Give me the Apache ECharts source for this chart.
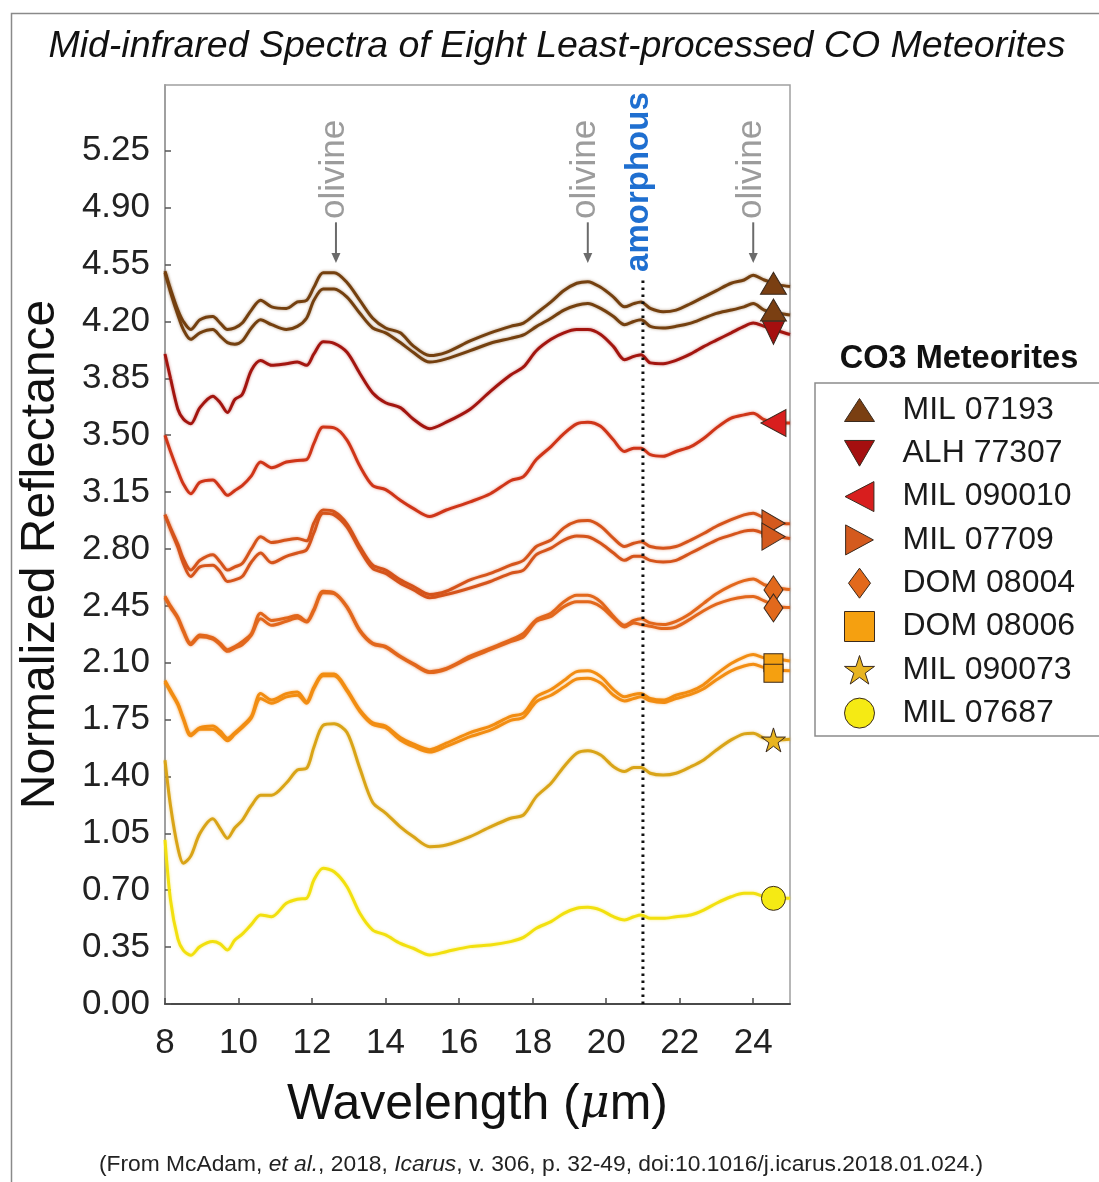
<!DOCTYPE html>
<html><head><meta charset="utf-8">
<script src="https://cdn.jsdelivr.net/npm/echarts@6/dist/echarts.min.js"></script>
<style>html,body{margin:0;padding:0;background:#fff}#c{width:1099px;height:1182px}</style>
</head><body><div id="c"></div>
<script>
// ---------- data ----------
const wavelength = [8.0, 8.15, 8.35, 8.5, 8.7, 8.95, 9.3, 9.5, 9.7, 9.9, 10.1, 10.35, 10.6, 10.9, 11.3, 11.6, 11.85, 12.05, 12.3, 12.6, 12.95, 13.3, 13.65, 14.0, 14.4, 14.75, 15.2, 15.65, 16.3, 16.85, 17.4, 17.75, 18.1, 18.5, 18.85, 19.2, 19.5, 19.85, 20.2, 20.5, 20.75, 20.95, 21.2, 21.55, 21.9, 22.3, 22.65, 23.0, 23.4, 23.75, 24.0, 24.3, 24.7, 25.0];

const mil07193a = [4.51, 4.40, 4.27, 4.20, 4.15, 4.21, 4.23, 4.19, 4.15, 4.16, 4.19, 4.27, 4.33, 4.29, 4.28, 4.32, 4.33, 4.41, 4.50, 4.50, 4.44, 4.33, 4.22, 4.16, 4.13, 4.05, 3.99, 4.01, 4.08, 4.13, 4.17, 4.19, 4.25, 4.32, 4.39, 4.435, 4.445, 4.41, 4.35, 4.29, 4.31, 4.32, 4.28, 4.26, 4.27, 4.31, 4.35, 4.39, 4.435, 4.455, 4.485, 4.455, 4.425, 4.415];
const mil07193b = [4.50, 4.38, 4.24, 4.15, 4.09, 4.13, 4.15, 4.11, 4.07, 4.06, 4.08, 4.16, 4.21, 4.18, 4.15, 4.17, 4.22, 4.33, 4.40, 4.40, 4.35, 4.25, 4.16, 4.13, 4.07, 4.01, 3.95, 3.97, 4.02, 4.066, 4.096, 4.117, 4.168, 4.22, 4.27, 4.30, 4.31, 4.28, 4.23, 4.18, 4.20, 4.21, 4.17, 4.16, 4.17, 4.19, 4.22, 4.25, 4.27, 4.29, 4.31, 4.27, 4.25, 4.24];
const alh77307 = [4.00, 3.85, 3.66, 3.60, 3.57, 3.67, 3.74, 3.70, 3.64, 3.72, 3.75, 3.90, 3.96, 3.93, 3.94, 3.95, 3.93, 4.00, 4.075, 4.065, 4.01, 3.88, 3.76, 3.70, 3.67, 3.60, 3.54, 3.58, 3.66, 3.77, 3.87, 3.92, 4.02, 4.09, 4.13, 4.15, 4.15, 4.12, 4.045, 3.965, 3.985, 3.995, 3.945, 3.94, 3.96, 4.00, 4.045, 4.085, 4.13, 4.17, 4.19, 4.17, 4.14, 4.12];
const mil090010 = [3.50, 3.40, 3.28, 3.20, 3.14, 3.21, 3.225, 3.18, 3.13, 3.16, 3.19, 3.25, 3.335, 3.30, 3.335, 3.345, 3.35, 3.45, 3.55, 3.545, 3.47, 3.31, 3.19, 3.165, 3.10, 3.05, 3.00, 3.04, 3.09, 3.14, 3.22, 3.245, 3.35, 3.43, 3.51, 3.57, 3.58, 3.555, 3.47, 3.40, 3.42, 3.42, 3.38, 3.37, 3.40, 3.43, 3.48, 3.545, 3.605, 3.625, 3.635, 3.595, 3.575, 3.575];
const mil07709a = [3.01, 2.93, 2.83, 2.74, 2.67, 2.73, 2.765, 2.72, 2.67, 2.69, 2.71, 2.80, 2.875, 2.84, 2.855, 2.865, 2.85, 2.96, 3.04, 3.03, 2.955, 2.815, 2.70, 2.67, 2.61, 2.57, 2.52, 2.54, 2.61, 2.65, 2.70, 2.73, 2.815, 2.855, 2.93, 2.97, 2.975, 2.94, 2.865, 2.815, 2.835, 2.845, 2.815, 2.805, 2.815, 2.855, 2.895, 2.94, 2.98, 3.01, 3.02, 2.99, 2.96, 2.955];
const mil07709b = [3.01, 2.92, 2.81, 2.71, 2.63, 2.69, 2.70, 2.66, 2.60, 2.61, 2.63, 2.72, 2.775, 2.715, 2.755, 2.775, 2.795, 2.90, 3.02, 3.01, 2.935, 2.795, 2.68, 2.65, 2.59, 2.55, 2.50, 2.52, 2.56, 2.60, 2.65, 2.67, 2.765, 2.805, 2.855, 2.88, 2.875, 2.835, 2.775, 2.73, 2.755, 2.755, 2.73, 2.72, 2.73, 2.775, 2.815, 2.855, 2.885, 2.91, 2.915, 2.895, 2.875, 2.865];
const dom08004a = [2.51, 2.45, 2.38, 2.30, 2.22, 2.27, 2.255, 2.22, 2.18, 2.20, 2.23, 2.28, 2.405, 2.36, 2.375, 2.39, 2.355, 2.43, 2.54, 2.53, 2.445, 2.30, 2.22, 2.20, 2.14, 2.095, 2.045, 2.065, 2.14, 2.19, 2.24, 2.28, 2.365, 2.405, 2.475, 2.515, 2.515, 2.475, 2.385, 2.33, 2.36, 2.37, 2.345, 2.335, 2.355, 2.405, 2.465, 2.525, 2.575, 2.605, 2.615, 2.58, 2.56, 2.55];
const dom08004b = [2.50, 2.44, 2.37, 2.29, 2.21, 2.26, 2.245, 2.21, 2.17, 2.19, 2.21, 2.27, 2.37, 2.33, 2.355, 2.375, 2.35, 2.42, 2.53, 2.525, 2.44, 2.295, 2.215, 2.195, 2.135, 2.09, 2.04, 2.06, 2.13, 2.18, 2.23, 2.26, 2.355, 2.385, 2.445, 2.475, 2.475, 2.445, 2.375, 2.32, 2.345, 2.335, 2.325, 2.31, 2.32, 2.37, 2.42, 2.46, 2.49, 2.505, 2.507, 2.48, 2.445, 2.44];
const dom08006a = [1.99, 1.93, 1.85, 1.76, 1.66, 1.70, 1.71, 1.68, 1.635, 1.67, 1.71, 1.77, 1.91, 1.87, 1.91, 1.92, 1.86, 1.95, 2.03, 2.03, 1.935, 1.81, 1.73, 1.71, 1.64, 1.60, 1.565, 1.605, 1.67, 1.71, 1.77, 1.79, 1.89, 1.935, 1.99, 2.045, 2.05, 2.015, 1.935, 1.89, 1.905, 1.91, 1.88, 1.87, 1.90, 1.925, 1.965, 2.03, 2.095, 2.135, 2.15, 2.13, 2.12, 2.11];
const dom08006b = [1.98, 1.92, 1.84, 1.75, 1.65, 1.69, 1.69, 1.66, 1.62, 1.66, 1.70, 1.76, 1.88, 1.85, 1.89, 1.90, 1.85, 1.94, 2.02, 2.02, 1.925, 1.80, 1.72, 1.70, 1.625, 1.585, 1.55, 1.585, 1.645, 1.685, 1.745, 1.765, 1.86, 1.90, 1.95, 2.00, 2.005, 1.975, 1.90, 1.865, 1.88, 1.89, 1.865, 1.855, 1.88, 1.905, 1.94, 1.995, 2.05, 2.08, 2.09, 2.07, 2.055, 2.05];
const mil090073 = [1.50, 1.22, 0.96, 0.866, 0.91, 1.05, 1.14, 1.08, 1.02, 1.085, 1.13, 1.22, 1.285, 1.285, 1.36, 1.44, 1.45, 1.58, 1.715, 1.725, 1.67, 1.45, 1.24, 1.175, 1.09, 1.03, 0.968, 0.978, 1.03, 1.09, 1.143, 1.163, 1.276, 1.358, 1.46, 1.543, 1.559, 1.532, 1.46, 1.43, 1.456, 1.456, 1.42, 1.409, 1.42, 1.46, 1.502, 1.563, 1.625, 1.662, 1.666, 1.635, 1.625, 1.629];
const mil07687 = [1.01, 0.64, 0.40, 0.33, 0.30, 0.353, 0.384, 0.37, 0.332, 0.394, 0.43, 0.49, 0.548, 0.537, 0.62, 0.645, 0.65, 0.763, 0.835, 0.814, 0.722, 0.558, 0.455, 0.425, 0.373, 0.343, 0.302, 0.322, 0.353, 0.363, 0.384, 0.41, 0.466, 0.507, 0.558, 0.589, 0.595, 0.578, 0.537, 0.517, 0.537, 0.548, 0.527, 0.527, 0.537, 0.548, 0.578, 0.62, 0.66, 0.681, 0.681, 0.66, 0.65, 0.65];

const meteorites = ['MIL 07193', 'ALH 77307', 'MIL 090010', 'MIL 07709', 'DOM 08004', 'DOM 08006', 'MIL 090073', 'MIL 07687'];
const markerX = 24.55;
const markerValues = [[4.435, 4.27], [4.13], [3.575], [2.958, 2.876], [2.548, 2.437], [2.10, 2.035], [1.625], [0.65]];

const xTicks = [8, 10, 12, 14, 16, 18, 20, 22, 24];
const yTicks = [0, 0.35, 0.70, 1.05, 1.40, 1.75, 2.10, 2.45, 2.80, 3.15, 3.50, 3.85, 4.20, 4.55, 4.90, 5.25];

const olivineX = [12.65, 19.5, 24.0];
const olivineArrow = [4.81, 4.56];   // arrow top, arrow tip
const olivineTextStart = 4.83;
const amorphousX = 21.0;
const amorphousLineTop = 4.47;
const amorphousTextStart = 4.505;

// ---------- styles ----------
const FONT = 'Liberation Sans, Arial, sans-serif';
const lineColors = {'MIL 07193':'#74400f','ALH 77307':'#a3150f','MIL 090010':'#cf3518','MIL 07709':'#d5541b','DOM 08004':'#e2671c','DOM 08006':'#f28d12','MIL 090073':'#d9a417','MIL 07687':'#f2e00e'};
const markerColors = ['#7a3f12','#a50f0f','#d81e1e','#d45a1e','#e2691c','#f5a010','#e8b420','#f5ea14'];
const P = {
  up: 'path://M0,23 L30,23 L15,0 Z',
  down: 'path://M0,0 L28,0 L14,24 Z',
  left: 'path://M25,0 L25,26 L0,13 Z',
  right: 'path://M0,0 L0,27 L25,13.5 Z',
  diamond: 'path://M11,0 L22,15 L11,30 L0,15 Z',
  square: 'path://M0,0 L22,0 L22,22 L0,22 Z',
  star: 'path://M50,2 L61.2,36.6 L97.6,36.5 L68.1,57.9 L79.4,92.5 L50,71 L20.6,92.5 L31.9,57.9 L2.4,36.5 L38.8,36.6 Z',
  circle: 'circle'
};
const markerSymbols = [P.up, P.down, P.left, P.right, P.diamond, P.square, P.star, P.circle];
const markerSizes = [[26,22],[22,23],[25,27],[23,27],[19,28],[19,18],[24,24],[24,24]];

const spectra = [
  ['MIL 07193', mil07193a], ['MIL 07193', mil07193b], ['ALH 77307', alh77307], ['MIL 090010', mil090010],
  ['MIL 07709', mil07709a], ['MIL 07709', mil07709b], ['DOM 08004', dom08004a], ['DOM 08004', dom08004b],
  ['DOM 08006', dom08006a], ['DOM 08006', dom08006b], ['MIL 090073', mil090073], ['MIL 07687', mil07687]
];

const series = [];
meteorites.forEach((m, i) => {
  series.push({
    type: 'scatter', name: m, z: 5, silent: true,
    symbol: markerSymbols[i], symbolSize: markerSizes[i],
    itemStyle: { color: markerColors[i], borderColor: '#3a2a1e', borderWidth: 1, opacity: 1 },
    data: markerValues[i].map(v => [markerX, v])
  });
});
spectra.forEach(([m, vals]) => {
  series.push({
    type: 'line', name: m, z: 2, silent: true, symbol: 'none', showSymbol: false, smooth: 0.3,
    lineStyle: { color: lineColors[m], width: 3, shadowBlur: 3, shadowColor: lineColors[m] + '88' },
    itemStyle: { color: lineColors[m] },
    data: wavelength.map((w, j) => [w, vals[j]])
  });
});
// olivine annotations
series.push({
  type: 'custom', z: 6, silent: true,
  data: olivineX.map(x => [x, olivineArrow[0], olivineArrow[1], olivineTextStart]),
  renderItem: (params, api) => {
    const a = api.coord([api.value(0), api.value(1)]);
    const b = api.coord([api.value(0), api.value(2)]);
    const t = api.coord([api.value(0), api.value(3)]);
    return { type: 'group', children: [
      { type: 'line', shape: { x1: a[0], y1: a[1], x2: b[0], y2: b[1] - 8 }, style: { stroke: '#6b6b6b', lineWidth: 2 } },
      { type: 'polygon', shape: { points: [[b[0] - 4.5, b[1] - 10], [b[0] + 4.5, b[1] - 10], [b[0], b[1]]] }, style: { fill: '#6b6b6b' } },
      { type: 'text', x: t[0] - 2, y: t[1], rotation: Math.PI / 2,
        style: { text: 'olivine', fill: '#9c9c9c', font: '35px ' + FONT, align: 'left', verticalAlign: 'middle' } }
    ]};
  }
});
// amorphous annotation
series.push({
  type: 'custom', z: 6, silent: true,
  data: [[amorphousX, 0, amorphousLineTop, amorphousTextStart]],
  renderItem: (params, api) => {
    const a = api.coord([api.value(0), api.value(1)]);
    const b = api.coord([api.value(0), api.value(2)]);
    const t = api.coord([api.value(0), api.value(3)]);
    return { type: 'group', children: [
      { type: 'line', shape: { x1: a[0], y1: a[1], x2: b[0], y2: b[1] }, style: { stroke: '#111', lineWidth: 3, lineDash: [2.5, 4.5] } },
      { type: 'text', x: t[0] - 4, y: t[1], rotation: Math.PI / 2,
        style: { text: 'amorphous', fill: '#1f6fd0', font: 'bold 33px ' + FONT, align: 'left', verticalAlign: 'middle' } }
    ]};
  }
});

const option = {
  animation: false,
  backgroundColor: '#fff',
  textStyle: { fontFamily: FONT },
  title: [
    { text: 'Mid-infrared Spectra of Eight Least-processed CO Meteorites', left: 557, top: 28, textAlign: 'center', padding: 0,
      textStyle: { fontFamily: FONT, fontSize: 37.5, fontStyle: 'italic', fontWeight: 'normal', color: '#111' } },
    { text: 'CO3 Meteorites', left: 959, top: 343, textAlign: 'center', padding: 0,
      textStyle: { fontFamily: FONT, fontSize: 32.5, fontWeight: 'bold', color: '#111' } },
    { text: '(From McAdam, {i|et al.}, 2018, {i|Icarus}, v. 306, p. 32-49, doi:10.1016/j.icarus.2018.01.024.)', left: 541, top: 1153, textAlign: 'center', padding: 0,
      textStyle: { fontFamily: FONT, fontSize: 22.8, fontWeight: 'normal', color: '#222',
        rich: { i: { fontFamily: FONT, fontSize: 22.8, fontStyle: 'italic', color: '#222' } } } }
  ],
  graphic: [
    { type: 'rect', left: 9, top: 11, shape: { width: 1200, height: 1300 }, style: { fill: 'none', stroke: '#8a8a8a', lineWidth: 1.5 }, z: -1, silent: true }
  ],
  legend: {
    orient: 'vertical', left: 815, top: 383, padding: [11, 80, 7, 29],
    itemWidth: 30, itemHeight: 30, itemGap: 11.3, selectedMode: false,
    borderColor: '#8c8c8c', borderWidth: 1.5,
    itemStyle: { borderWidth: 1 },
    textStyle: { fontFamily: FONT, fontSize: 32, color: '#1a1a1a', padding: [0, 0, 0, 23] },
    data: meteorites.map((m, i) => ({ name: m, icon: markerSymbols[i] }))
  },
  grid: { left: 165, right: 309, top: 85, bottom: 178, show: true, borderColor: '#a0a0a0', borderWidth: 1.5, backgroundColor: 'transparent' },
  xAxis: {
    type: 'value', min: 8, max: 25, interval: 2,
    axisLine: { lineStyle: { color: '#4a4a4a', width: 2 } },
    axisTick: { inside: true, length: 6, customValues: xTicks, lineStyle: { color: '#4a4a4a', width: 1.5 } },
    axisLabel: { customValues: xTicks, fontFamily: FONT, fontSize: 35, color: '#222', margin: 22 },
    splitLine: { show: false },
    name: '{a|Wavelength (}{b|μ}{a|m)}', nameLocation: 'middle', nameGap: 76,
    nameTextStyle: { rich: { a: { fontFamily: FONT, fontSize: 50, color: '#111' }, b: { fontFamily: 'DejaVu Serif, serif', fontSize: 46, fontStyle: 'italic', color: '#111' } } }
  },
  yAxis: {
    type: 'value', min: 0, max: 5.655,
    axisLine: { lineStyle: { color: '#a0a0a0', width: 2 } },
    axisTick: { inside: true, length: 6, customValues: yTicks, lineStyle: { color: '#555', width: 1.5 } },
    axisLabel: { customValues: yTicks, formatter: v => v.toFixed(2), fontFamily: FONT, fontSize: 35, color: '#222', margin: 15 },
    splitLine: { show: false },
    name: 'Normalized Reflectance', nameLocation: 'middle', nameGap: 100,
    nameTextStyle: { fontFamily: FONT, fontSize: 48, color: '#111', padding: [0, 20, 0, 0] }
  },
  series: series
};
const chart = echarts.init(document.getElementById('c'), null, { renderer: 'canvas' });
chart.setOption(option);
</script></body></html>
